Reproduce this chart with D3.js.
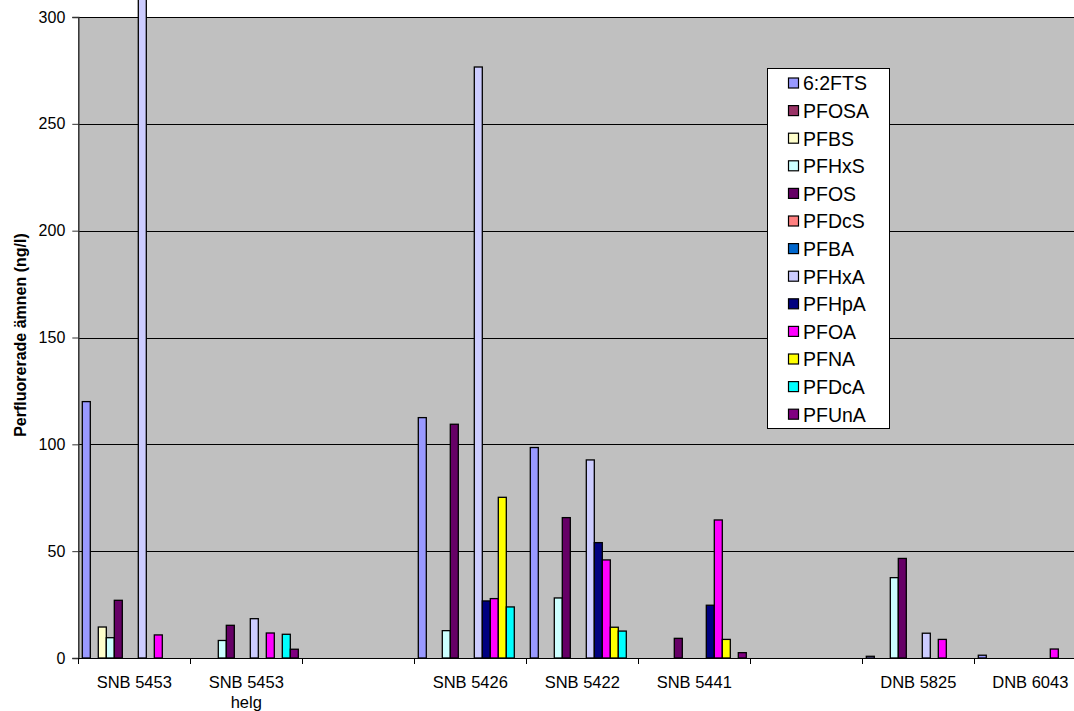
<!DOCTYPE html>
<html>
<head>
<meta charset="utf-8">
<script src="https://cdn.jsdelivr.net/npm/d3@7"></script>
<style>
  html, body { margin: 0; padding: 0; background: #fff; }
  svg { display: block; font-family: "Liberation Sans", Arial, sans-serif; }
</style>
</head>
<body>
<svg id="chart" width="1074" height="711"></svg>
<script>
// Sampling points (second line of a label after "\n")
const categories = ["SNB 5453", "SNB 5453\nhelg", "", "SNB 5426", "SNB 5422", "SNB 5441", "", "DNB 5825", "DNB 6043"];

const seriesNames = ["6:2FTS", "PFOSA", "PFBS", "PFHxS", "PFOS", "PFDcS", "PFBA", "PFHxA", "PFHpA", "PFOA", "PFNA", "PFDcA", "PFUnA"];
const seriesColors = ["#9999FF", "#993366", "#FFFFCC", "#CCFFFF", "#660066", "#FF8080", "#0066CC", "#CCCCFF", "#000080", "#FF00FF", "#FFFF00", "#00FFFF", "#800080"];

// Concentrations in ng/l per sampling point (null = not detected)
const v62FTS = [120, null, null, 112.5, 98.5, null, null, 0.8, 1.3];
const vPFOSA = [null, null, null, null, null, null, null, null, null];
const vPFBS  = [14.5, null, null, null, null, null, null, null, null];
const vPFHxS = [9.5, 8.2, null, 12.8, 28.1, null, null, 37.6, null];
const vPFOS  = [27, 15.3, null, 109.4, 65.7, 9.2, null, 46.6, null];
const vPFDcS = [null, null, null, null, null, null, null, null, null];
const vPFBA  = [null, null, null, null, null, null, null, null, null];
const vPFHxA = [330, 18.4, null, 276.6, 92.7, null, null, 11.6, null];
const vPFHpA = [null, null, null, 26.7, 54, 24.7, null, null, null];
const vPFOA  = [10.8, 11.7, null, 27.8, 45.9, 64.6, null, 8.7, 4.2];
const vPFNA  = [null, null, null, 75.2, 14.4, 8.7, null, null, null];
const vPFDcA = [null, 11.1, null, 23.9, 12.6, null, null, null, null];
const vPFUnA = [null, 4.1, null, null, null, 2.5, null, null, null];

const yTicks = [0, 50, 100, 150, 200, 250, 300];
const yTitle = "Perfluorerade ämnen (ng/l)";

const seriesValues = [v62FTS, vPFOSA, vPFBS, vPFHxS, vPFOS, vPFDcS, vPFBA, vPFHxA, vPFHpA, vPFOA, vPFNA, vPFDcA, vPFUnA];

const svg = d3.select("#chart");
const plot = { left: 78.3, top: 17, bottom: 658, right: 78.3 + 112 * categories.length };

const x0 = d3.scaleBand().domain(d3.range(categories.length)).range([plot.left, plot.right]).padding(0);
const x1 = d3.scaleBand().domain(d3.range(seriesNames.length)).range([0, x0.bandwidth()]).paddingInner(0).paddingOuter(0.5);
const y = d3.scaleLinear().domain([0, 300]).range([plot.bottom, plot.top]);

// Plot area background
svg.append("rect")
  .attr("x", plot.left).attr("y", plot.top)
  .attr("width", plot.right - plot.left).attr("height", plot.bottom - plot.top)
  .attr("fill", "#C0C0C0");

// Horizontal gridlines
svg.append("g").selectAll("line")
  .data(yTicks.filter(t => t > 0))
  .join("line")
  .attr("x1", plot.left).attr("x2", plot.right)
  .attr("y1", d => Math.round(y(d)) + 0.5).attr("y2", d => Math.round(y(d)) + 0.5)
  .attr("stroke", "#000").attr("stroke-width", 1);

// Bars
const barData = [];
seriesValues.forEach((vals, si) => {
  vals.forEach((v, ci) => {
    if (v != null) barData.push({ si, ci, v });
  });
});
svg.append("g").selectAll("rect")
  .data(barData)
  .join("rect")
  .attr("x", d => x0(d.ci) + x1(d.si))
  .attr("y", d => y(d.v))
  .attr("width", x1.bandwidth())
  .attr("height", d => y(0) - y(d.v))
  .attr("fill", d => seriesColors[d.si])
  .attr("stroke", "#000")
  .attr("stroke-width", 1.3);

// Y axis
const yAxis = svg.append("g")
  .attr("transform", `translate(${plot.left},0)`)
  .call(d3.axisLeft(y).tickValues(yTicks).tickSize(6).tickPadding(7).tickFormat(d3.format("d")));
yAxis.select(".domain").attr("stroke", "#333").attr("stroke-width", 1.5);
yAxis.selectAll(".tick line").attr("stroke", "#333");
yAxis.selectAll("text").attr("font-size", 16).attr("fill", "#000").attr("font-family", "Liberation Sans, Arial, sans-serif");

// X axis
const xAxis = svg.append("g")
  .attr("transform", `translate(0,${plot.bottom})`)
  .call(d3.axisBottom(x0).tickSize(0).tickFormat(""));
xAxis.select(".domain").attr("stroke", "#000").attr("stroke-width", 1.2);

// Category boundary ticks
svg.append("g").selectAll("line")
  .data(d3.range(categories.length + 1))
  .join("line")
  .attr("x1", i => Math.round(plot.left + 112 * i) + 0.5)
  .attr("x2", i => Math.round(plot.left + 112 * i) + 0.5)
  .attr("y1", plot.bottom).attr("y2", plot.bottom + 6)
  .attr("stroke", "#000");

// Category labels
const labels = svg.append("g")
  .attr("font-size", 16.5)
  .attr("text-anchor", "middle")
  .attr("fill", "#000");
categories.forEach((c, i) => {
  if (!c) return;
  const t = labels.append("text")
    .attr("x", x0(i) + x0.bandwidth() / 2)
    .attr("y", 688);
  c.split("\n").forEach((line, li) => {
    t.append("tspan")
      .attr("x", x0(i) + x0.bandwidth() / 2)
      .attr("dy", li === 0 ? 0 : 20)
      .text(line);
  });
});

// Y axis title
svg.append("text")
  .attr("transform", "translate(26,335) rotate(-90)")
  .attr("text-anchor", "middle")
  .attr("font-size", 16)
  .attr("font-weight", "bold")
  .text(yTitle);

// Legend
const legend = svg.append("g");
legend.append("rect")
  .attr("x", 767.5).attr("y", 68.5)
  .attr("width", 122).attr("height", 360)
  .attr("fill", "#fff").attr("stroke", "#000").attr("stroke-width", 1);
const items = legend.selectAll("g.item")
  .data(seriesNames)
  .join("g")
  .attr("class", "item")
  .attr("transform", (d, i) => `translate(0,${83.5 + i * 27.6})`);
items.append("rect")
  .attr("x", 788.5).attr("y", -5.5)
  .attr("width", 10).attr("height", 10)
  .attr("fill", (d, i) => seriesColors[i])
  .attr("stroke", "#000").attr("stroke-width", 1.2);
items.append("text")
  .attr("x", 803)
  .attr("y", 0)
  .attr("dy", "0.35em")
  .attr("font-size", 19.5)
  .attr("fill", "#000")
  .text(d => d);
</script>
</body>
</html>
